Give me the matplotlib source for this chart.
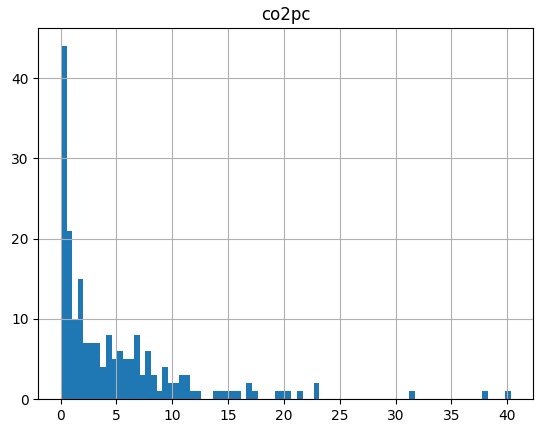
import numpy as np
import matplotlib
matplotlib.use("Agg")
import matplotlib.pyplot as plt

# histogram of co2pc: 80 equal bins between data min and max
x_min = 0.04
x_max = 40.3
n_bins = 80
counts = [44, 21, 10, 15, 7, 7, 7, 4, 8, 5,
          6, 5, 5, 8, 3, 6, 3, 1, 4, 2,
          2, 3, 3, 1, 1, 0, 0, 1, 1, 1,
          1, 1, 0, 2, 1, 0, 0, 0, 1, 1,
          1, 0, 1, 0, 0, 2, 0, 0, 0, 0,
          0, 0, 0, 0, 0, 0, 0, 0, 0, 0,
          0, 0, 1, 0, 0, 0, 0, 0, 0, 0,
          0, 0, 0, 0, 0, 1, 0, 0, 0, 1]

edges = np.linspace(x_min, x_max, n_bins + 1)
centers = (edges[:-1] + edges[1:]) / 2

fig = plt.figure(figsize=(5.43, 4.33), dpi=100)
ax = fig.add_axes([0.0709, 0.0785, 0.9107, 0.8557])
ax.hist(centers, bins=edges, weights=counts, color="#1f77b4")
ax.grid(True)
ax.set_title("co2pc")
ax.set_xticks([0, 5, 10, 15, 20, 25, 30, 35, 40])
ax.set_yticks([0, 10, 20, 30, 40])
fig.savefig("out.png", dpi=100)
